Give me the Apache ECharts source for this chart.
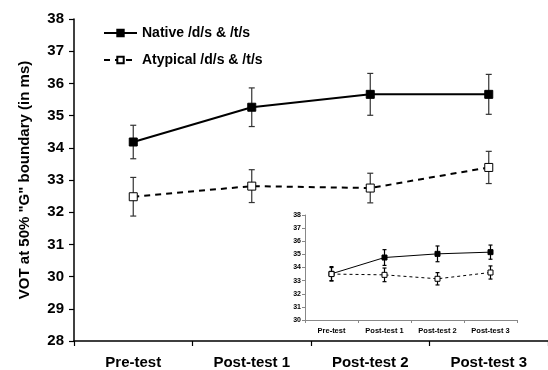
<!DOCTYPE html>
<html>
<head>
<meta charset="utf-8">
<script src="https://cdn.jsdelivr.net/npm/echarts@6/dist/echarts.min.js"></script>
<style>
html,body{margin:0;padding:0;background:#fff;}
#c{width:548px;height:370px;}
</style>
</head>
<body>
<div id="c"></div>
<script>
const categories = ['Pre-test', 'Post-test 1', 'Post-test 2', 'Post-test 3'];
const nativeMean = [34.18, 35.26, 35.66, 35.66];
const nativeErr = [0.52, 0.6, 0.65, 0.62];
const atypicalMean = [32.48, 32.81, 32.75, 33.39];
const atypicalErr = [0.6, 0.51, 0.46, 0.5];
const insetNativeMean = [33.52, 34.76, 35.04, 35.17];
const insetNativeErr = [0.55, 0.6, 0.6, 0.54];
const insetAtypicalMean = [33.5, 33.44, 33.14, 33.62];
const insetAtypicalErr = [0.5, 0.52, 0.47, 0.5];
const yTicksMain = [28, 38, 1];
const yTicksInset = [30, 38, 1];

const FONT = 'Liberation Sans, Arial, sans-serif';

function errData(mean, err) {
  return mean.map((m, i) => [i, m - err[i], m + err[i]]);
}
function makeErrRender(cap, lw, color) {
  return function (params, api) {
    const x = api.value(0), lo = api.value(1), hi = api.value(2);
    const t = api.coord([x, hi]), b = api.coord([x, lo]);
    const st = { stroke: color, lineWidth: lw };
    return {
      type: 'group',
      children: [
        { type: 'line', shape: { x1: t[0], y1: t[1], x2: b[0], y2: b[1] }, style: st },
        { type: 'line', shape: { x1: t[0] - cap, y1: t[1], x2: t[0] + cap, y2: t[1] }, style: st },
        { type: 'line', shape: { x1: b[0] - cap, y1: b[1], x2: b[0] + cap, y2: b[1] }, style: st }
      ]
    };
  };
}

const chart = echarts.init(document.getElementById('c'), null, { renderer: 'canvas' });
chart.setOption({
  animation: false,
  backgroundColor: '#fff',
  textStyle: { fontFamily: FONT },
  legend: {
    data: ['Native /d/s & /t/s', 'Atypical /d/s & /t/s'],
    orient: 'vertical',
    left: 103,
    top: 26,
    padding: 0,
    itemWidth: 33,
    itemHeight: 8,
    itemGap: 13,
    textStyle: { fontFamily: FONT, fontWeight: 'bold', fontSize: 14, color: '#000' }
  },
  grid: [
    { left: 74, top: 19, width: 477, height: 322, containLabel: false },
    { left: 305, top: 215, width: 212, height: 105, containLabel: false }
  ],
  xAxis: [
    {
      gridIndex: 0, type: 'category', data: categories, boundaryGap: true,
      axisLine: { lineStyle: { color: '#000', width: 1.5 } },
      axisTick: { show: true, length: 5, lineStyle: { color: '#000', width: 1.2 } },
      axisLabel: { margin: 14, color: '#000', fontWeight: 'bold', fontSize: 15, fontFamily: FONT }
    },
    {
      gridIndex: 1, type: 'category', data: categories, boundaryGap: true,
      axisLine: { lineStyle: { color: '#888', width: 1 } },
      axisTick: { show: true, length: 3, lineStyle: { color: '#888', width: 1 } },
      axisLabel: { margin: 7, color: '#000', fontWeight: 'bold', fontSize: 7.5, fontFamily: FONT }
    }
  ],
  yAxis: [
    {
      gridIndex: 0, type: 'value', min: yTicksMain[0], max: yTicksMain[1], interval: yTicksMain[2],
      name: 'VOT at 50% "G" boundary (in ms)', nameLocation: 'middle', nameGap: 42, nameRotate: 90,
      nameTextStyle: { color: '#000', fontWeight: 'bold', fontSize: 15, fontFamily: FONT },
      axisLine: { show: true, lineStyle: { color: '#000', width: 1.5 } },
      axisTick: { show: true, length: 5, lineStyle: { color: '#000', width: 1.2 } },
      axisLabel: { margin: 10, color: '#000', fontWeight: 'bold', fontSize: 15, fontFamily: FONT },
      splitLine: { show: false }
    },
    {
      gridIndex: 1, type: 'value', min: yTicksInset[0], max: yTicksInset[1], interval: yTicksInset[2],
      axisLine: { show: true, lineStyle: { color: '#888', width: 1 } },
      axisTick: { show: true, length: 3, lineStyle: { color: '#888', width: 1 } },
      axisLabel: { margin: 4, color: '#000', fontWeight: 'bold', fontSize: 7, fontFamily: FONT },
      splitLine: { show: false }
    }
  ],
  series: [
    {
      name: 'nativeErr', type: 'custom', xAxisIndex: 0, yAxisIndex: 0, z: 1,
      renderItem: makeErrRender(3, 1.2, '#333'), data: errData(nativeMean, nativeErr), silent: true
    },
    {
      name: 'atypicalErr', type: 'custom', xAxisIndex: 0, yAxisIndex: 0, z: 1,
      renderItem: makeErrRender(3, 1.2, '#333'), data: errData(atypicalMean, atypicalErr), silent: true
    },
    {
      name: 'Native /d/s & /t/s', type: 'line', xAxisIndex: 0, yAxisIndex: 0, z: 3,
      data: nativeMean, symbol: 'rect', symbolSize: 8,
      lineStyle: { color: '#000', width: 2 },
      itemStyle: { color: '#000', borderColor: '#000', borderWidth: 1 }
    },
    {
      name: 'Atypical /d/s & /t/s', type: 'line', xAxisIndex: 0, yAxisIndex: 0, z: 3,
      data: atypicalMean, symbol: 'rect', symbolSize: 8,
      lineStyle: { color: '#000', width: 2, type: [6, 5] },
      itemStyle: { color: '#fff', borderColor: '#000', borderWidth: 1 }
    },
    {
      name: 'insetNativeErr', type: 'custom', xAxisIndex: 1, yAxisIndex: 1, z: 1,
      renderItem: makeErrRender(2, 1.2, '#000'), data: errData(insetNativeMean, insetNativeErr), silent: true
    },
    {
      name: 'insetAtypicalErr', type: 'custom', xAxisIndex: 1, yAxisIndex: 1, z: 1,
      renderItem: makeErrRender(2, 1.2, '#000'), data: errData(insetAtypicalMean, insetAtypicalErr), silent: true
    },
    {
      name: 'insetNative', type: 'line', xAxisIndex: 1, yAxisIndex: 1, z: 3,
      data: insetNativeMean, symbol: 'rect', symbolSize: 5,
      lineStyle: { color: '#000', width: 1 },
      itemStyle: { color: '#000', borderColor: '#000', borderWidth: 1 }
    },
    {
      name: 'insetAtypical', type: 'line', xAxisIndex: 1, yAxisIndex: 1, z: 3,
      data: insetAtypicalMean, symbol: 'rect', symbolSize: 5,
      lineStyle: { color: '#000', width: 1, type: [3, 3] },
      itemStyle: { color: '#fff', borderColor: '#000', borderWidth: 1 }
    }
  ]
});
</script>
</body>
</html>
